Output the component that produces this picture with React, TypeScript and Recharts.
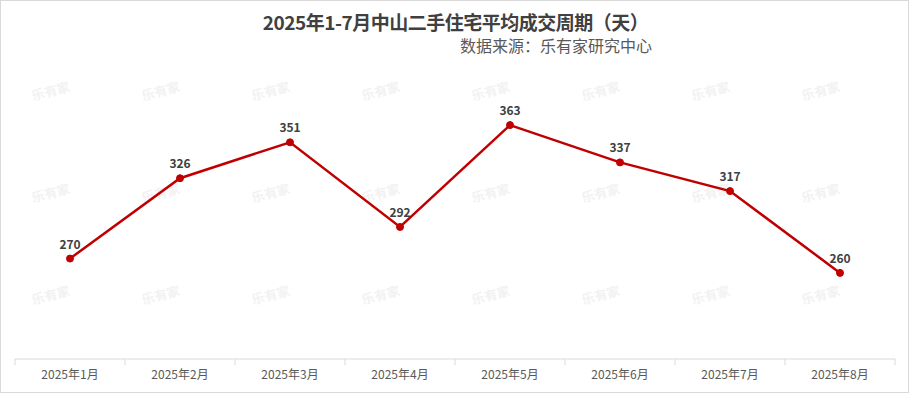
import { LineChart, Line, XAxis, YAxis, LabelList } from 'recharts';

// 2025年1-8月 中山二手住宅平均成交周期（天）
const months = ['2025年1月', '2025年2月', '2025年3月', '2025年4月', '2025年5月', '2025年6月', '2025年7月', '2025年8月'];
const cycleDays = [270, 326, 351, 292, 363, 337, 317, 260];

const data = months.map((month, i) => ({ month, days: cycleDays[i] }));

const W = 909;
const H = 393;
const FONT = '"Microsoft YaHei", "Noto Sans CJK SC", "Noto Sans", sans-serif';
const BAND = (W - 15 - 14) / months.length;

// faint watermark grid
const wmCols = [0, 1, 2, 3, 4, 5, 6, 7];
const wmRows = [0, 1, 2];

const MonthTick = ({ x, y, payload, index }: any) => (
  <g>
    <line x1={x - BAND / 2} x2={x - BAND / 2} y1={y - 8} y2={y - 2} stroke="#d9d9d9" />
    {index === months.length - 1 && (
      <line x1={x + BAND / 2} x2={x + BAND / 2} y1={y - 8} y2={y - 2} stroke="#d9d9d9" />
    )}
    <text x={x} y={y + 12} textAnchor="middle" fontSize={12} fill="#595959" fontFamily={FONT}>
      {payload.value}
    </text>
  </g>
);

export default function App() {
  return (
    <div
      style={{
        position: 'fixed',
        left: 0,
        top: 0,
        width: W,
        height: H,
        boxSizing: 'border-box',
        border: '1px solid #d9d9d9',
        background: '#fff',
        fontFamily: FONT,
        overflow: 'hidden',
      }}
    >
      {/* watermarks */}
      {wmRows.map((r) =>
        wmCols.map((c) => (
          <div
            key={`wm-${r}-${c}`}
            style={{
              position: 'absolute',
              left: 30 + c * 110,
              top: 80 + r * 102,
              fontSize: 13,
              fontWeight: 700,
              color: '#f2f2f2',
              transform: 'rotate(-15deg)',
              pointerEvents: 'none',
            }}
          >
            乐有家
          </div>
        ))
      )}

      <div
        style={{
          position: 'absolute',
          left: 0,
          width: W,
          top: 10,
          lineHeight: '22px',
          textAlign: 'center',
          fontSize: 19,
          fontWeight: 700,
          color: '#404040',
          letterSpacing: -0.5,
        }}
      >
        2025年1-7月中山二手住宅平均成交周期（天）
      </div>
      <div
        style={{
          position: 'absolute',
          left: 459,
          top: 35,
          lineHeight: '19px',
          fontSize: 16,
          color: '#595959',
        }}
      >
        数据来源：乐有家研究中心
      </div>

      <div style={{ position: 'absolute', left: -1, top: -1 }}>
        <LineChart width={W} height={H} data={data} margin={{ top: 72, right: 14, left: 15, bottom: 0 }}>
          <XAxis
            dataKey="month"
            height={34}
            axisLine={{ stroke: '#d9d9d9' }}
            tickLine={false}
            tick={<MonthTick />}
            interval={0}
            padding={{ left: BAND / 2, right: BAND / 2 }}
          />
          <YAxis hide domain={[200, 400]} />
          <Line
            type="linear"
            dataKey="days"
            stroke="#C00000"
            strokeWidth={2.5}
            dot={{ r: 3.5, fill: '#C00000', stroke: '#C00000', strokeWidth: 1 }}
            isAnimationActive={false}
          >
            <LabelList
              dataKey="days"
              position="top"
              offset={10}
              fill="#404040"
              fontSize={12}
              fontWeight={700}
              fontFamily={FONT}
            />
          </Line>
        </LineChart>
      </div>
    </div>
  );
}
